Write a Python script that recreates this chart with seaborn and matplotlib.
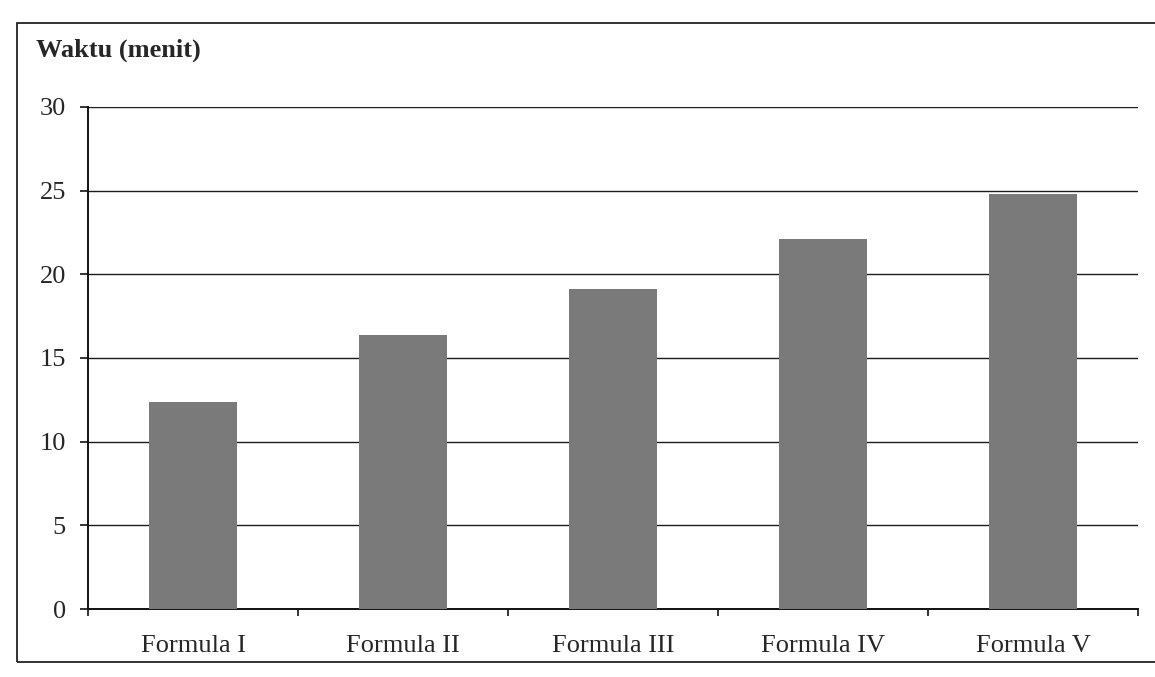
import pandas as pd
import matplotlib
matplotlib.use("Agg")
import matplotlib.pyplot as plt
import seaborn as sns
from matplotlib.patches import Rectangle

formulas = ["Formula I", "Formula II", "Formula III", "Formula IV", "Formula V"]
waktu = [12.4, 16.4, 19.1, 22.1, 24.8]
y_ticks = [0, 5, 10, 15, 20, 25, 30]

df = pd.DataFrame({"formula": formulas, "waktu": waktu})

sns.set_style("white")
plt.rcParams["font.family"] = ["Liberation Serif", "DejaVu Serif"]

fig = plt.figure(figsize=(11.55, 6.77), dpi=100)
ax = fig.add_axes([0.0762, 0.1004, 0.9091, 0.7416])

sns.barplot(data=df, x="formula", y="waktu", order=formulas,
            color="#7a7a7a", saturation=1, width=0.42, ax=ax,
            linewidth=0, zorder=3)

ax.set_xlim(-0.5, len(formulas) - 0.5)
ax.set_ylim(0, 30)
ax.set_yticks(y_ticks)
ax.set_yticklabels([str(t) for t in y_ticks], fontsize=19)
ax.set_xticklabels(formulas, fontsize=19)
ax.set_xlabel("")
ax.set_ylabel("")

# gridlines
ax.yaxis.grid(True, color="#1c1c1c", linewidth=1.0)
ax.set_axisbelow(True)

for side in ["top", "right"]:
    ax.spines[side].set_visible(False)
for side in ["left", "bottom"]:
    ax.spines[side].set_color("#111111")
    ax.spines[side].set_linewidth(1.4)

ax.tick_params(axis="y", direction="out", length=6, width=1.2,
               color="#111111", pad=10, left=True)
ax.tick_params(axis="x", which="major", length=0, pad=19)
# ticks at category boundaries
ax.set_xticks([i - 0.5 for i in range(len(formulas) + 1)], minor=True)
ax.tick_params(axis="x", which="minor", direction="out", length=5,
               width=1.2, color="#111111", bottom=True)

fig.text(0.031, 0.926, "Waktu (menit)", fontsize=19, fontweight="bold",
         ha="left", va="center")

# outer frame of the chart area
frame = Rectangle((0.015, 0.022), 1.0, 0.944, transform=fig.transFigure,
                  fill=False, edgecolor="#222222", linewidth=1.3)
fig.patches.append(frame)

fig.savefig("out.png", dpi=100)
